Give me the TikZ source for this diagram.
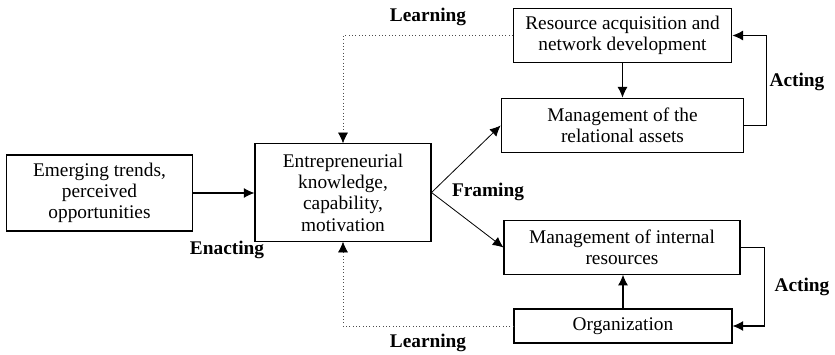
\documentclass[tikz,border=0pt]{standalone}
\usepackage{fontspec}
\setmainfont{Liberation Serif}
\usetikzlibrary{arrows.meta}
\begin{document}
\begin{tikzpicture}[x=0.75pt,y=-0.75pt]
	\tikzset{>={Latex[length=8pt,width=7.5pt]}}
	\tikzset{box/.style={draw,line width=0.8pt,align=center,inner sep=2pt,font=\fontsize{14.5}{16}\selectfont}}
	\tikzset{tag/.style={font=\fontsize{14.5}{16}\selectfont\bfseries}}
	\tikzset{learn/.style={-{Latex[length=8pt,width=7.5pt,color=black]},dotted,color=black!70,line width=0.5pt}}
	\useasboundingbox (0,0) rectangle (835,354);

	% boxes
	\node[box,minimum width=140pt,minimum height=57pt] (trends) at (99.5,193) {Emerging trends,\\perceived\\opportunities};
	\node[box,minimum width=132pt,minimum height=73pt] (know) at (343,192.5) {Entrepreneurial\\knowledge,\\capability,\\motivation};
	\node[box,minimum width=164pt,minimum height=41pt] (acq) at (622.5,35.5) {Resource acquisition and\\network development};
	\node[box,minimum width=182pt,minimum height=41pt] (rel) at (622.5,125.5) {Management of the\\relational assets};
	\node[box,minimum width=177pt,minimum height=40pt] (intern) at (622,247.5) {Management of internal\\resources};
	\node[box,minimum width=163.5pt,minimum height=25.5pt] (org) at (623,326) {Organization};

	% labels
	\node[tag] (learnA) at (428,17) {Learning};
	\node[tag] (enact) at (227,250) {Enacting};
	\node[tag] (frame) at (488,192) {Framing};
	\node[tag] (actA) at (797,82) {Acting};
	\node[tag] (actB) at (802,287) {Acting};
	\node[tag] (learnB) at (428,343) {Learning};

	% arrows
	\draw[->,line width=0.8pt] (trends.east) -- (trends.east -| know.west);
	\draw[->,line width=0.8pt] (acq) -- (rel);
	\draw[->,line width=0.6pt] (know.east) -- (rel.west);
	\draw[->,line width=0.6pt] (know.east) -- (intern.west);
	\draw[->,line width=0.8pt] (org.north) -- (org.north |- intern.south);
	\draw[->,line width=0.8pt] (rel.east) -- ++(22,0) |- (acq.east);
	\draw[->,line width=0.8pt] (intern.east) -- ++(24,0) |- (org.east);
	\draw[learn] (acq.west) -| (know.north);
	\draw[learn] (org.west) -| (know.south);
\end{tikzpicture}
\end{document}
